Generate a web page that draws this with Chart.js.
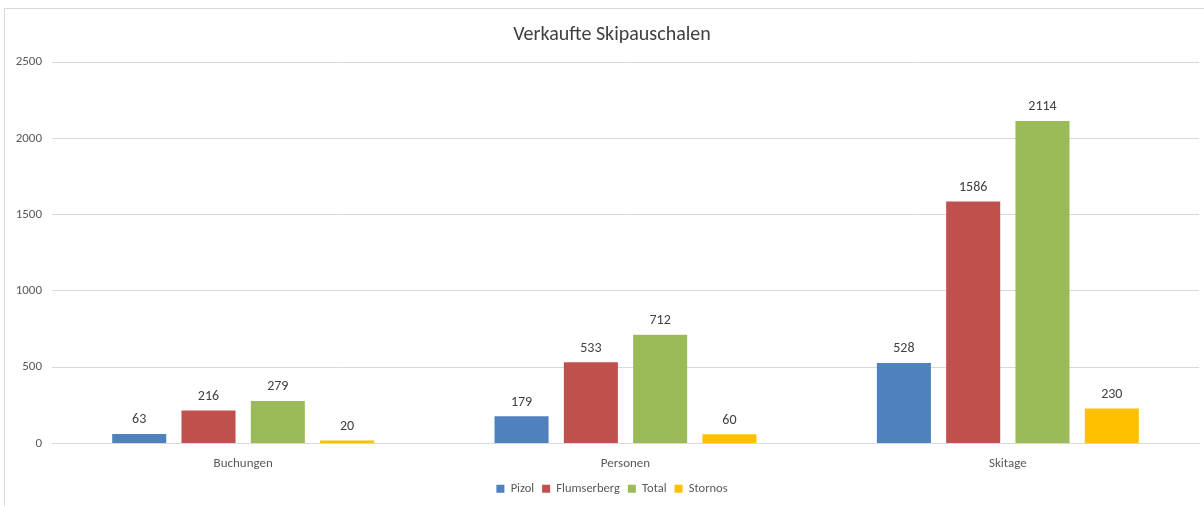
<!DOCTYPE html>
<html><head><meta charset="utf-8">
<script src="https://cdn.jsdelivr.net/npm/chart.js@4/dist/chart.umd.min.js"></script>
<style>
html,body{margin:0;padding:0;background:#fff;overflow:hidden;width:1204px;height:506px;}
#frame{position:absolute;left:4px;top:8px;width:1214px;height:510px;border:1px solid #d9d9d9;}
#wrap{position:absolute;left:0;top:0;width:1214px;height:497px;}
</style></head>
<body>
<div id="frame"><div id="wrap"><canvas id="c"></canvas></div></div>
<script>
const categories = ["Buchungen", "Personen", "Skitage"];
const pizol = [63, 179, 528];
const flumserberg = [216, 533, 1586];
const total = [279, 712, 2114];
const stornos = [20, 60, 230];
const yTicks = [0, 500, 1000, 1500, 2000, 2500];

const FONT = "Calibri, Carlito, Lato, 'Open Sans', sans-serif";

const valueLabels = {
  id: 'valueLabels',
  afterDatasetsDraw(chart) {
    const ctx = chart.ctx;
    ctx.save();
    ctx.font = "14px " + FONT;
    ctx.fillStyle = "#404040";
    ctx.textAlign = "center";
    ctx.textBaseline = "middle";
    chart.data.datasets.forEach((ds, i) => {
      const meta = chart.getDatasetMeta(i);
      meta.data.forEach((bar, j) => {
        ctx.fillText(String(ds.data[j]), bar.x, bar.y - 14);
      });
    });
    ctx.restore();
  }
};

const mk = (label, data, color) => ({
  label, data, backgroundColor: color, borderColor: color, borderWidth: 0,
  categoryPercentage: 0.725, barPercentage: 0.78
});

new Chart(document.getElementById('c'), {
  type: 'bar',
  data: {
    labels: categories,
    datasets: [
      mk('Pizol', pizol, '#4F81BD'),
      mk('Flumserberg', flumserberg, '#C0504D'),
      mk('Total', total, '#9BBB59'),
      mk('Stornos', stornos, '#FFC000')
    ]
  },
  options: {
    responsive: true,
    maintainAspectRatio: false,
    animation: false,
    layout: { padding: { left: 0, right: 0, top: 0, bottom: 1 } },
    plugins: {
      title: {
        display: true, text: 'Verkaufte Skipauschalen',
        color: '#404040', font: { family: FONT, size: 20, weight: 'normal' },
        padding: { top: 14, bottom: 15 }
      },
      legend: {
        position: 'bottom',
        labels: {
          boxWidth: 8, boxHeight: 8, padding: 8,
          color: '#595959', font: { family: FONT, size: 12.5 }
        }
      },
      tooltip: { enabled: false }
    },
    scales: {
      x: {
        grid: { display: false, drawTicks: false },
        border: { display: true, color: '#d9d9d9' },
        ticks: { color: '#595959', font: { family: FONT, size: 13 }, padding: 12 },
        afterFit: (s) => { s.height = 31; }
      },
      y: {
        min: 0, max: 2500,
        afterBuildTicks: (s) => { s.ticks = yTicks.map(v => ({ value: v })); },
        grid: { color: '#d9d9d9', drawTicks: false, lineWidth: 1 },
        border: { display: false },
        ticks: { color: '#595959', font: { family: FONT, size: 13 }, padding: 10,
                 callback: (v) => String(v) },
        afterFit: (s) => { s.width = 47; }
      },
      yRight: {
        position: 'right', min: 0, max: 2500,
        grid: { display: false, drawTicks: false },
        border: { display: false },
        ticks: { display: false },
        afterFit: (s) => { s.width = 20; }
      }
    }
  },
  plugins: [valueLabels]
});
</script>
</body></html>
